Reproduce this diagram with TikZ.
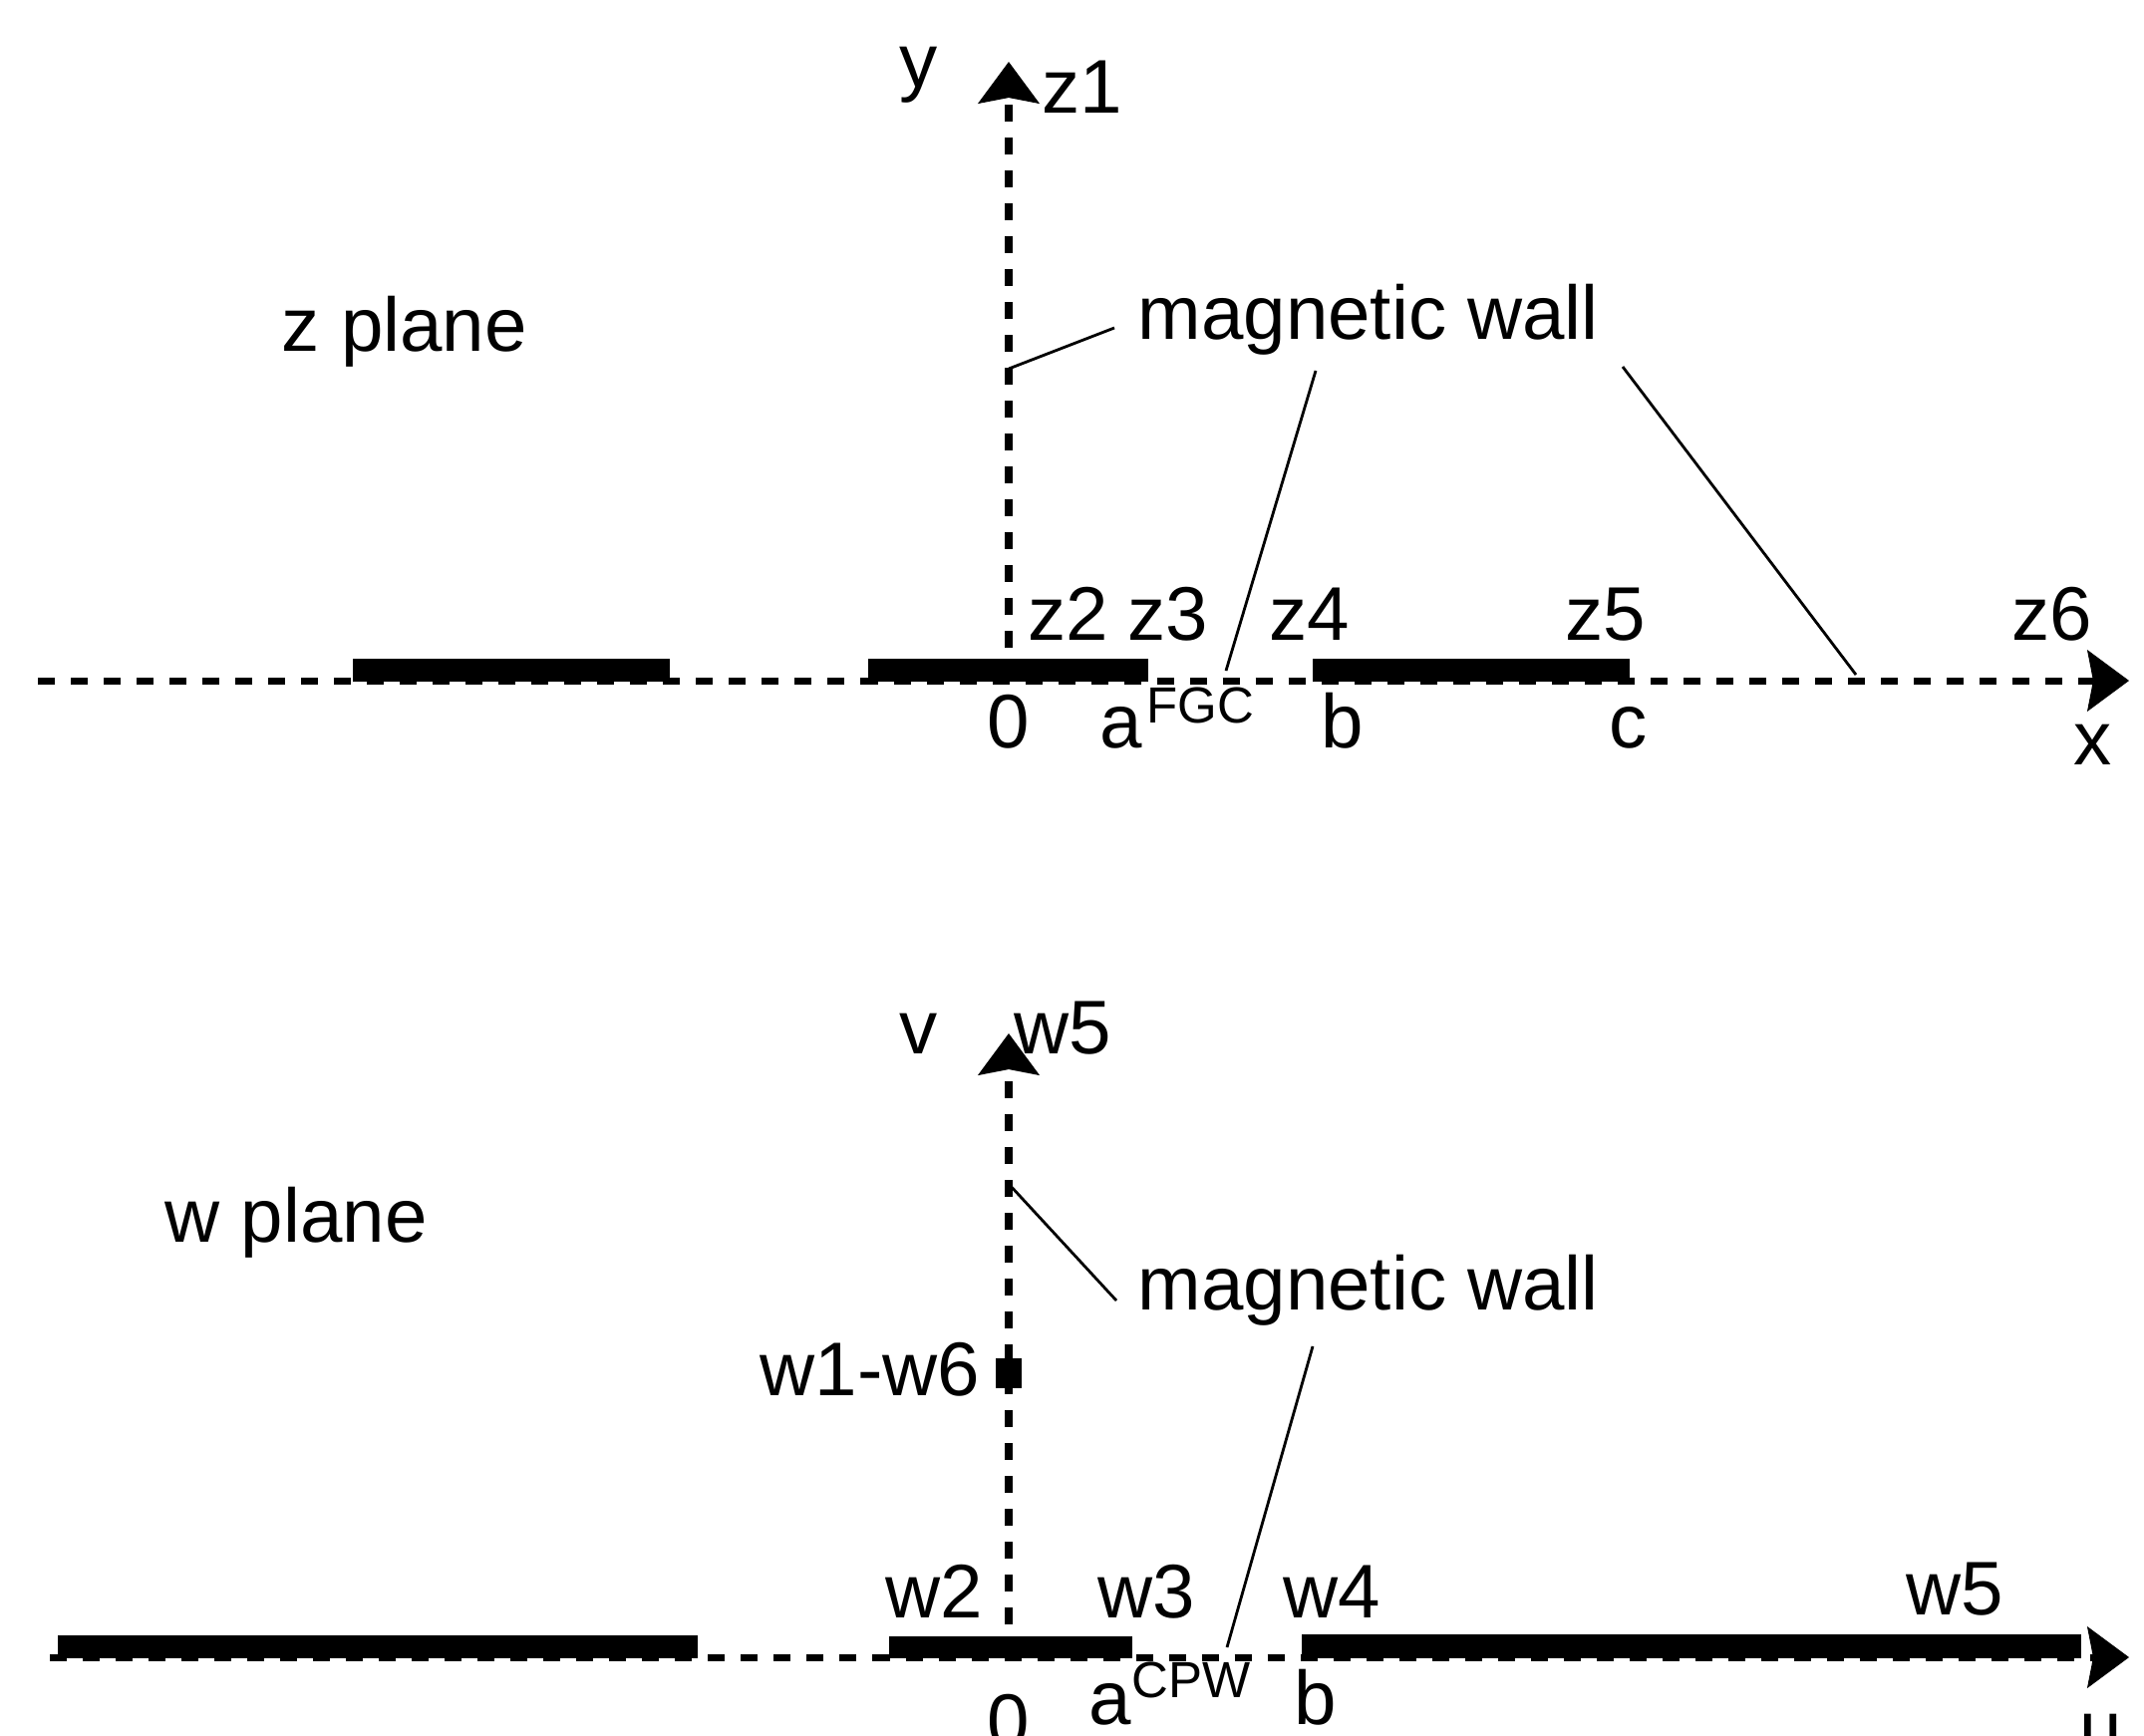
\documentclass[tikz,border=0pt]{standalone}
\usepackage{fontspec}
\setmainfont{Liberation Sans}
\usetikzlibrary{arrows.meta}
\begin{document}
\begin{tikzpicture}[x=0.01cm,y=-0.01cm,
  lbl/.style={inner sep=0pt,font=\fontsize{21.7}{26}\selectfont},
  sup/.style={inner sep=0pt,font=\fontsize{14.5}{17}\selectfont},
  axis/.style={line width=0.07cm,dash pattern=on 0.17cm off 0.16cm,
    -{Stealth[length=0.42cm,width=0.62cm,inset=0.06cm,line width=0.01cm]}},
  vaxis/.style={axis,line width=0.08cm},
  strip/.style={fill=black,draw=none},
  leader/.style={line width=0.028cm},
  marker/.style={fill=black,draw=none,minimum width=0.26cm,minimum height=0.30cm,inner sep=0pt}]
\useasboundingbox (0,0) rectangle (2151,1741);

% ---------------- z plane ----------------
\coordinate (xs) at (38,683);
\coordinate (xe) at (2136,683);
\coordinate (ys) at (1012,683);
\coordinate (ye) at (1012,62);
\draw[axis] (xs) -- (xe);
\draw[vaxis] (ys) -- (ye);
\fill[strip] (354,661) rectangle (672,684);
\fill[strip] (871,661) rectangle (1152,684);
\fill[strip] (1317,661) rectangle (1635,684);

\node[lbl,anchor=base] (ylab) at (922,87) {y};
\node[lbl,anchor=base west] (z1) at (1045,113) {z1};
\node[lbl,anchor=base west] (zplane) at (282,352) {z plane};
\node[lbl,anchor=base west] (mw1) at (1141,340) {magnetic wall};
\node[lbl,anchor=base] (z2) at (1072,642) {z2};
\node[lbl,anchor=base] (z3) at (1172,642) {z3};
\node[lbl,anchor=base] (z4) at (1314,642) {z4};
\node[lbl,anchor=base] (z5) at (1611,642) {z5};
\node[lbl,anchor=base] (z6) at (2059,642) {z6};
\node[lbl,anchor=base] (o1) at (1012,750) {0};
\node[lbl,anchor=base] (a1) at (1125,750) {a};
\node[sup,anchor=base west] (fgc) at (1150,725) {FGC};
\node[lbl,anchor=base] (b1) at (1347,750) {b};
\node[lbl,anchor=base] (c1) at (1634,750) {c};
\node[lbl,anchor=base] (xl) at (2100,767) {x};

\coordinate (l1a) at (1012,370);
\coordinate (l1b) at (1118,329);
\coordinate (l2a) at (1320,372);
\coordinate (l2b) at (1230,673);
\coordinate (l3a) at (1628,368);
\coordinate (l3b) at (1862,677);
\draw[leader] (l1a) -- (l1b);
\draw[leader] (l2a) -- (l2b);
\draw[leader] (l3a) -- (l3b);

% ---------------- w plane ----------------
\coordinate (us) at (50,1663);
\coordinate (ue) at (2136,1663);
\coordinate (vs) at (1012,1663);
\coordinate (ve) at (1012,1037);
\draw[axis] (us) -- (ue);
\draw[vaxis] (vs) -- (ve);
\fill[strip] (58,1641) rectangle (700,1664);
\fill[strip] (892,1642) rectangle (1136,1664);
\fill[strip] (1306,1640) rectangle (2088,1664);

\node[marker] (sq) at (1012,1378) {};
\node[lbl,anchor=base] (vlab) at (922,1057) {v};
\node[lbl,anchor=base west] (w5t) at (1017,1057) {w5};
\node[lbl,anchor=base west] (wplane) at (165,1246) {w plane};
\node[lbl,anchor=base west] (mw2) at (1141,1314) {magnetic wall};
\node[lbl,anchor=base west] (w16) at (762,1400) {w1-w6};
\node[lbl,anchor=base] (w2) at (937,1623) {w2};
\node[lbl,anchor=base] (w3) at (1150,1623) {w3};
\node[lbl,anchor=base] (w4) at (1336,1623) {w4};
\node[lbl,anchor=base] (w5) at (1961,1620) {w5};
\node[lbl,anchor=base] (o2) at (1012,1753) {0};
\node[lbl,anchor=base] (a2) at (1114,1730) {a};
\node[sup,anchor=base west] (cpw) at (1135,1703) {CPW};
\node[lbl,anchor=base] (b2) at (1320,1730) {b};
\node[lbl,anchor=base] (ul) at (2108,1760) {u};

\coordinate (l4a) at (1012,1188);
\coordinate (l4b) at (1120,1305);
\coordinate (l5a) at (1317,1351);
\coordinate (l5b) at (1231,1653);
\draw[leader] (l4a) -- (l4b);
\draw[leader] (l5a) -- (l5b);
\end{tikzpicture}
\end{document}
